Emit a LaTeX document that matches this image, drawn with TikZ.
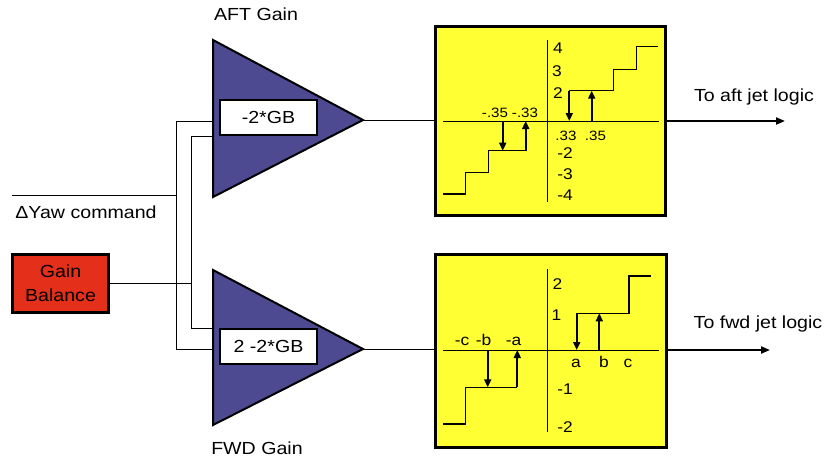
\documentclass[tikz,border=0pt]{standalone}
\usepackage{fontspec}
\setmainfont{Liberation Sans}[FakeStretch=1.12]
\usetikzlibrary{arrows.meta}
\definecolor{plotyellow}{RGB}{255,255,51}
\definecolor{gbred}{RGB}{228,48,26}
\definecolor{gainpurple}{RGB}{78,74,146}
\tikzset{
  bigtxt/.style={font=\fontsize{17.5}{20}\selectfont, inner sep=0pt},
  numtxt/.style={font=\fontsize{15.5}{17}\selectfont, inner sep=0pt},
  smalltxt/.style={font=\fontsize{13.5}{15}\selectfont, inner sep=0pt},
  wire/.style={line width=1pt},
  plotbox/.style={draw, fill=plotyellow, line width=3pt, inner sep=0pt},
  gainbox/.style={draw, fill=white, line width=2pt, inner sep=0pt, minimum width=97pt, minimum height=35pt},
  amp/.style={draw, fill=gainpurple, line width=2pt, line join=miter},
  stair/.style={line width=1.1pt},
  axisln/.style={line width=1pt},
  jump/.style={line width=1.8pt, -{Triangle[length=8pt,width=7pt]}},
  outarrow/.style={line width=2pt, -{Triangle[length=9pt,width=7pt]}}
}
\begin{document}
\begin{tikzpicture}[x=1pt,y=-1pt]
\useasboundingbox (0,0) rectangle (827,461);

% amplifiers
\draw[amp] (213,40) -- (363,120) -- (213,197) -- cycle;
\draw[amp] (213,270) -- (363,349) -- (213,425) -- cycle;
\coordinate (afttip) at (363,120);
\coordinate (fwdtip) at (363,349);
\node[gainbox, bigtxt] (aftgb) at (268.5,117.5) {-2*GB};
\node[gainbox, bigtxt] (fwdgb) at (268.5,346.5) {2 -2*GB};
\node[bigtxt, anchor=base] (aftlbl) at (256,20) {AFT Gain};
\node[bigtxt, anchor=base] (fwdlbl) at (257,454) {FWD Gain};

% inputs
\coordinate (yawstart) at (12,195);
\coordinate (yawj) at (176,195);
\coordinate (o1) at (176,121);
\coordinate (o2) at (176,349);
\coordinate (a1) at (213,121);
\coordinate (f2) at (213,349);
\coordinate (gbj) at (191,283.5);
\coordinate (i1) at (191,136);
\coordinate (i2) at (191,328);
\coordinate (a2) at (213,136);
\coordinate (f1) at (213,328);
\node[bigtxt, anchor=base] (yawlbl) at (86,218) {ΔYaw command};
\node[draw, fill=gbred, line width=2.5pt, minimum width=96pt, minimum height=58pt, inner sep=0pt,
      bigtxt, align=center, font=\fontsize{17.5}{24}\selectfont] (gb) at (60.5,283.5) {Gain\\Balance};

\draw[wire] (yawstart) -- (yawj);
\draw[wire] (a1) -- (o1) -- (o2) -- (f2);
\draw[wire] (gb.east) -- (gbj);
\draw[wire] (a2) -- (i1) -- (i2) -- (f1);

% plot boxes
\node[plotbox, minimum width=230pt, minimum height=189pt] (aftplot) at (550,120.5) {};
\node[plotbox, minimum width=231pt, minimum height=193pt] (fwdplot) at (550.5,350.5) {};

\draw[wire] (afttip) -- (aftplot.west |- afttip);
\draw[wire] (fwdtip) -- (fwdplot.west |- fwdtip);

% outputs
\coordinate (aftend) at (785,121);
\coordinate (fwdend) at (770,350);
\draw[outarrow] (aftplot.east |- aftend) -- (aftend);
\draw[outarrow] (fwdplot.east |- fwdend) -- (fwdend);
\node[bigtxt, anchor=base] (aftout) at (754,101) {To aft jet logic};
\node[bigtxt, anchor=base] (fwdout) at (758,328) {To fwd jet logic};

% ---- AFT plot interior
\draw[axisln] (547,40) -- (547,202);
\draw[axisln] (443,121) -- (659,121);
\draw[stair] (443,194) -- (465.7,194) -- (465.7,172.7) -- (488.3,172.7) -- (488.3,150.7) -- (525.7,150.7);
\draw[stair] (569.3,90.7) -- (613.3,90.7) -- (613.3,69.3) -- (636.7,69.3) -- (636.7,46.7) -- (658.3,46.7);
\draw[jump] (502.7,121) -- (502.7,150.7);
\draw[jump] (525.7,150.7) -- (525.7,121);
\draw[jump] (569.3,90.7) -- (569.3,121);
\draw[jump] (591.7,121) -- (591.7,90.7);
\node[numtxt] (t4) at (558,48) {4};
\node[numtxt] (t3) at (557,71) {3};
\node[numtxt] (t2) at (558,93) {2};
\node[numtxt] (tm2) at (565,153) {-2};
\node[numtxt] (tm3) at (565,174) {-3};
\node[numtxt] (tm4) at (565,195) {-4};
\node[smalltxt] (tm35) at (495,113) {-.35};
\node[smalltxt] (tm33) at (525,113) {-.33};
\node[smalltxt] (t33) at (566,136) {.33};
\node[smalltxt] (t35) at (595.5,136) {.35};

% ---- FWD plot interior
\draw[axisln] (547,269) -- (547,432);
\draw[axisln] (443,350) -- (659,350);
\draw[stair] (443.3,424) -- (465.7,424) -- (465.7,387.3) -- (517.3,387.3);
\draw[stair] (576.7,313.3) -- (629,313.3) -- (629,276) -- (651,276);
\draw[jump] (487.7,350) -- (487.7,387.3);
\draw[jump] (517.3,387.3) -- (517.3,350);
\draw[jump] (576.7,313.3) -- (576.7,350);
\draw[jump] (599.3,350) -- (599.3,313.3);
\node[numtxt] (b2) at (557.5,284.5) {2};
\node[numtxt] (b1) at (556.5,315) {1};
\node[numtxt] (bm1) at (565,389) {-1};
\node[numtxt] (bm2) at (565,427) {-2};
\node[numtxt, anchor=base] (bmc) at (462,345.5) {-c};
\node[numtxt, anchor=base] (bmb) at (483.5,345.5) {-b};
\node[numtxt, anchor=base] (bma) at (513.5,345.5) {-a};
\node[numtxt, anchor=base] (ba) at (576,367) {a};
\node[numtxt, anchor=base] (bb) at (604,367) {b};
\node[numtxt, anchor=base] (bc) at (628,367) {c};
\end{tikzpicture}
\end{document}
